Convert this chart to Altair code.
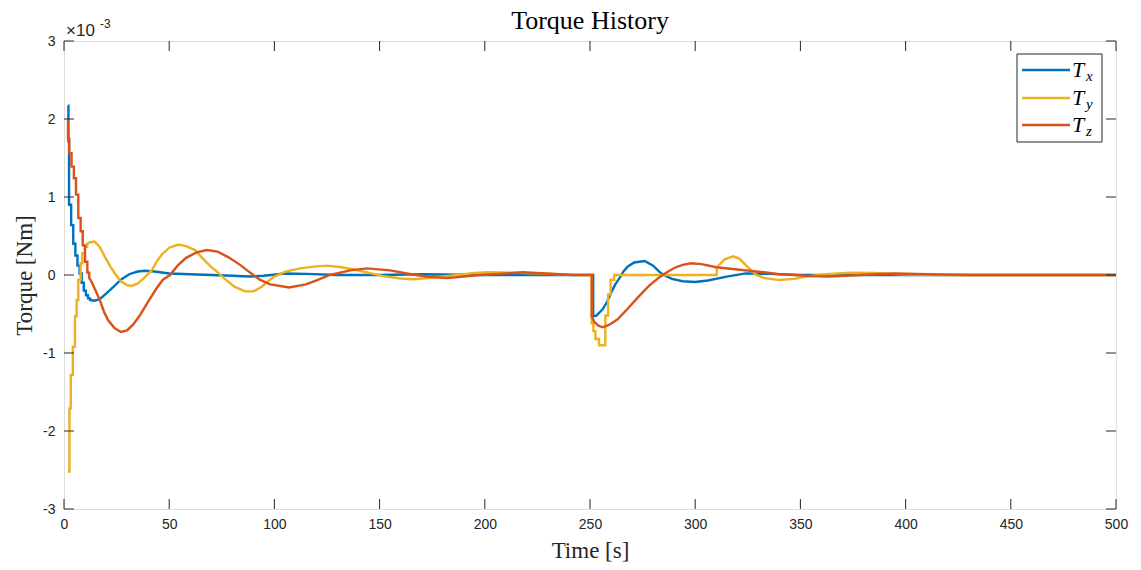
import altair as alt
import pandas as pd

# ---------------- data (torque in units of 1e-3 Nm) ----------------
SERIES = ["Tx", "Ty", "Tz"]
COLORS = ["#0072BD", "#EDB120", "#D95319"]
SUBS = ["x", "y", "z"]
XTICKS = [0, 50, 100, 150, 200, 250, 300, 350, 400, 450, 500]
YTICKS = [-3, -2, -1, 0, 1, 2, 3]

# Tx
TX_S1_T = [1.8, 2.1, 2.4, 3.4, 4.4, 5.4, 6.4, 7.4, 8.4, 9.4, 10.4, 11.4, 12.4]
TX_S1_V = [2.17, 1.71, 0.90, 0.64, 0.40, 0.25, 0.12, 0.02, -0.10, -0.20, -0.26, -0.30, -0.32]
TX_L1_T = [12.4, 14.5, 17, 20, 24, 27, 31, 35, 38.5, 43, 50, 60, 70, 80, 88, 95, 105, 115, 130,
           150, 170, 200, 230, 251.5, 251.5, 253, 256, 258, 260, 262, 264, 266, 268, 271, 276,
           280, 283, 285, 289, 294, 300, 306, 315, 324, 335, 350, 380, 420, 500]
TX_L1_V = [-0.32, -0.33, -0.31, -0.24, -0.14, -0.06, 0.01, 0.045, 0.055, 0.045, 0.02, 0.01, 0.0,
           -0.01, -0.02, -0.01, 0.02, 0.015, 0.0, 0.0, 0.01, 0.0, 0.0, 0.0, -0.53, -0.52, -0.44,
           -0.35, -0.23, -0.12, -0.04, 0.05, 0.11, 0.16, 0.18, 0.12, 0.04, 0.0, -0.05, -0.08,
           -0.09, -0.07, -0.02, 0.02, 0.015, 0.0, 0.0, 0.0, 0.0]

# Ty
TY_S1_T = [1.8, 2.6, 3.2, 4.2, 5.2, 6.0, 6.8, 7.9, 8.7, 9.9, 11.0]
TY_S1_V = [-2.52, -1.71, -1.28, -0.92, -0.53, -0.32, -0.06, 0.15, 0.28, 0.36, 0.40]
TY_L1_T = [11.0, 12.5, 14.5, 17, 19.5, 22, 24.2, 27, 30, 32, 35, 38, 41.7, 44, 46.4, 50, 54.3,
           58, 62.3, 66, 70, 72, 76, 81, 86, 90, 94, 97, 100, 105, 112, 120, 125, 132, 139, 146,
           153, 160, 166, 175, 187, 195, 202, 212, 226, 240, 250.8]
TY_L1_V = [0.40, 0.42, 0.43, 0.36, 0.23, 0.11, 0.02, -0.08, -0.13, -0.14, -0.11, -0.04, 0.06,
           0.17, 0.26, 0.35, 0.39, 0.37, 0.32, 0.21, 0.10, 0.06, -0.04, -0.15, -0.21, -0.21,
           -0.15, -0.08, -0.02, 0.04, 0.085, 0.11, 0.12, 0.10, 0.064, 0.02, -0.02, -0.045,
           -0.055, -0.035, 0.0, 0.025, 0.035, 0.03, 0.02, 0.005, 0.0]
TY_S2_T = [250.8, 251.6, 252.6, 254.3, 257.3, 258.6, 259.8, 261.5]
TY_S2_V = [-0.62, -0.72, -0.82, -0.90, -0.52, -0.25, -0.06, 0.0]
TY_L2_T = [261.5, 310.2, 310.3, 314, 318, 321, 325, 329, 333, 340, 347, 353, 362, 374, 385,
           398, 415, 500]
TY_L2_V = [0.0, 0.0, 0.10, 0.20, 0.24, 0.21, 0.10, 0.0, -0.04, -0.065, -0.05, -0.02, 0.01,
           0.03, 0.025, 0.01, 0.0, 0.0]

# Tz
TZ_S1_T = [1.6, 1.9, 2.5, 3.6, 4.7, 5.7, 6.8, 7.9, 8.9, 10.0, 11.1, 12.0]
TZ_S1_V = [1.97, 1.75, 1.56, 1.39, 1.24, 1.03, 0.73, 0.56, 0.38, 0.17, 0.03, -0.04]
TZ_L1_T = [12.0, 13, 14, 15, 17, 19, 21, 24, 27, 30, 33, 36, 40, 44, 47, 50.4, 54, 58, 63, 68,
           73, 78, 83.7, 88, 93, 98, 107, 115, 120, 126.4, 136, 144, 155, 165, 172, 182, 198,
           218, 242, 250.8, 250.8, 252, 254, 256, 259, 263, 268, 273, 278, 282, 285, 290, 294,
           298, 303, 310, 320, 331, 340, 347, 355, 363, 372, 385, 395, 410, 430, 500]
TZ_L1_V = [-0.04, -0.08, -0.14, -0.20, -0.32, -0.47, -0.58, -0.68, -0.73, -0.71, -0.63, -0.52,
           -0.34, -0.17, -0.06, 0.0, 0.12, 0.22, 0.29, 0.32, 0.30, 0.23, 0.13, 0.04, -0.06,
           -0.12, -0.16, -0.12, -0.07, 0.0, 0.06, 0.085, 0.06, 0.01, -0.02, -0.04, 0.0, 0.035,
           0.0, 0.0, -0.53, -0.60, -0.65, -0.67, -0.64, -0.57, -0.43, -0.28, -0.14, -0.05, 0.01,
           0.09, 0.13, 0.15, 0.14, 0.10, 0.07, 0.04, 0.01, 0.0, -0.015, -0.02, -0.01, 0.01,
           0.02, 0.01, 0.0, 0.0]


# ---------------- build table ----------------
def stairs(ts, vs):
    assert len(ts) == len(vs)
    pts = []
    for i, (t, v) in enumerate(zip(ts, vs)):
        if i > 0:
            pts.append((t, vs[i - 1]))
        pts.append((t, v))
    return pts


def line(ts, vs):
    assert len(ts) == len(vs)
    return list(zip(ts, vs))


segments = {
    "Tx": stairs(TX_S1_T, TX_S1_V) + line(TX_L1_T, TX_L1_V),
    "Ty": stairs(TY_S1_T, TY_S1_V) + line(TY_L1_T, TY_L1_V)
          + stairs(TY_S2_T, TY_S2_V) + line(TY_L2_T, TY_L2_V),
    "Tz": stairs(TZ_S1_T, TZ_S1_V) + line(TZ_L1_T, TZ_L1_V),
}
rows = []
for s in SERIES:
    for k, (t, v) in enumerate(segments[s]):
        rows.append({"t": t, "v": v, "series": s, "order": k})
df = pd.DataFrame(rows)

W, H = 1052, 468
AXC = "#262626"

xscale = alt.Scale(domain=[0, 500], nice=False, zero=False)
yscale = alt.Scale(domain=[-3, 3], nice=False, zero=False)

lines = alt.Chart(df).mark_line(strokeWidth=2.4, clip=True).encode(
    x=alt.X("t:Q", scale=xscale,
            axis=alt.Axis(values=XTICKS, grid=False, ticks=False, domain=False,
                          labelFont="Liberation Sans", labelFontSize=14, labelColor=AXC,
                          labelPadding=8, labelFlush=False,
                          title="Time [s]", titleFont="Liberation Serif", titleFontSize=23,
                          titleFontWeight="normal", titleColor=AXC,
                          titleBaseline="alphabetic", titleY=48)),
    y=alt.Y("v:Q", scale=yscale,
            axis=alt.Axis(values=YTICKS, grid=False, ticks=False, domain=False,
                          labelFont="Liberation Sans", labelFontSize=14, labelColor=AXC,
                          labelPadding=9, labelFlush=False,
                          labelExpr="datum.value < 0 ? '-' + abs(datum.value) : '' + datum.value",
                          title="Torque [Nm]", titleFont="Liberation Serif", titleFontSize=23,
                          titleFontWeight="normal", titleColor=AXC,
                          titleBaseline="alphabetic", titleX=-33)),
    color=alt.Color("series:N", scale=alt.Scale(domain=SERIES, range=COLORS), legend=None),
    order="order:Q",
)

tick_len = 10
xt = pd.DataFrame({"t": XTICKS})
yt = pd.DataFrame({"v": YTICKS})
xticks_bottom = alt.Chart(xt).mark_rule(color=AXC, strokeWidth=1).encode(
    x=alt.X("t:Q", scale=xscale), y=alt.value(H), y2=alt.value(H - tick_len))
xticks_top = alt.Chart(xt).mark_rule(color=AXC, strokeWidth=1).encode(
    x=alt.X("t:Q", scale=xscale), y=alt.value(0), y2=alt.value(tick_len))
yticks_left = alt.Chart(yt).mark_rule(color=AXC, strokeWidth=1).encode(
    y=alt.Y("v:Q", scale=yscale), x=alt.value(0), x2=alt.value(tick_len))
yticks_right = alt.Chart(yt).mark_rule(color=AXC, strokeWidth=1).encode(
    y=alt.Y("v:Q", scale=yscale), x=alt.value(W), x2=alt.value(W - tick_len))

# exponent label
exp_base = alt.Chart(pd.DataFrame({"s": ["\u00d710"]})).mark_text(
    font="Liberation Sans", fontSize=17, color=AXC, align="left", baseline="alphabetic"
).encode(x=alt.value(2), y=alt.value(-5), text="s:N")
exp_sup = alt.Chart(pd.DataFrame({"s": ["-3"]})).mark_text(
    font="Liberation Sans", fontSize=12, color=AXC, align="left", baseline="alphabetic"
).encode(x=alt.value(36), y=alt.value(-13), text="s:N")

# legend (drawn)
leg_box = alt.Chart(pd.DataFrame({"a": [0]})).mark_rect(
    fill="white", stroke=AXC, strokeWidth=1
).encode(x=alt.value(953), x2=alt.value(1038), y=alt.value(13), y2=alt.value(101))
legend_layers = [leg_box]
row_y = [29, 57, 84]
for i, s in enumerate(SERIES):
    d = pd.DataFrame({"series": [s], "main": ["T"], "sub": [SUBS[i]]})
    legend_layers.append(alt.Chart(d).mark_rule(strokeWidth=2.4, color=COLORS[i]).encode(
        x=alt.value(958), x2=alt.value(1006), y=alt.value(row_y[i])))
    legend_layers.append(alt.Chart(d).mark_text(
        font="Liberation Serif", fontStyle="italic", fontSize=22, color="black",
        align="left", baseline="alphabetic").encode(
        x=alt.value(1008), y=alt.value(row_y[i] + 7), text="main:N"))
    legend_layers.append(alt.Chart(d).mark_text(
        font="Liberation Serif", fontStyle="italic", fontSize=15, color="black",
        align="left", baseline="alphabetic").encode(
        x=alt.value(1022), y=alt.value(row_y[i] + 11), text="sub:N"))

chart = alt.layer(
    lines, xticks_bottom, xticks_top, yticks_left, yticks_right, exp_base, exp_sup,
    *legend_layers
).properties(
    width=W, height=H,
    title=alt.TitleParams("Torque History", font="Liberation Serif", fontSize=26,
                          fontWeight="normal", color="black", anchor="middle",
                          offset=10, dy=26),
    autosize=alt.AutoSizeParams(type="none"),
    padding={"left": 64, "top": 41, "right": 25, "bottom": 61},
).configure_view(stroke=AXC, strokeWidth=1).configure(background="white")

chart.save("out.html", embed_options={"renderer": "svg", "actions": False})
